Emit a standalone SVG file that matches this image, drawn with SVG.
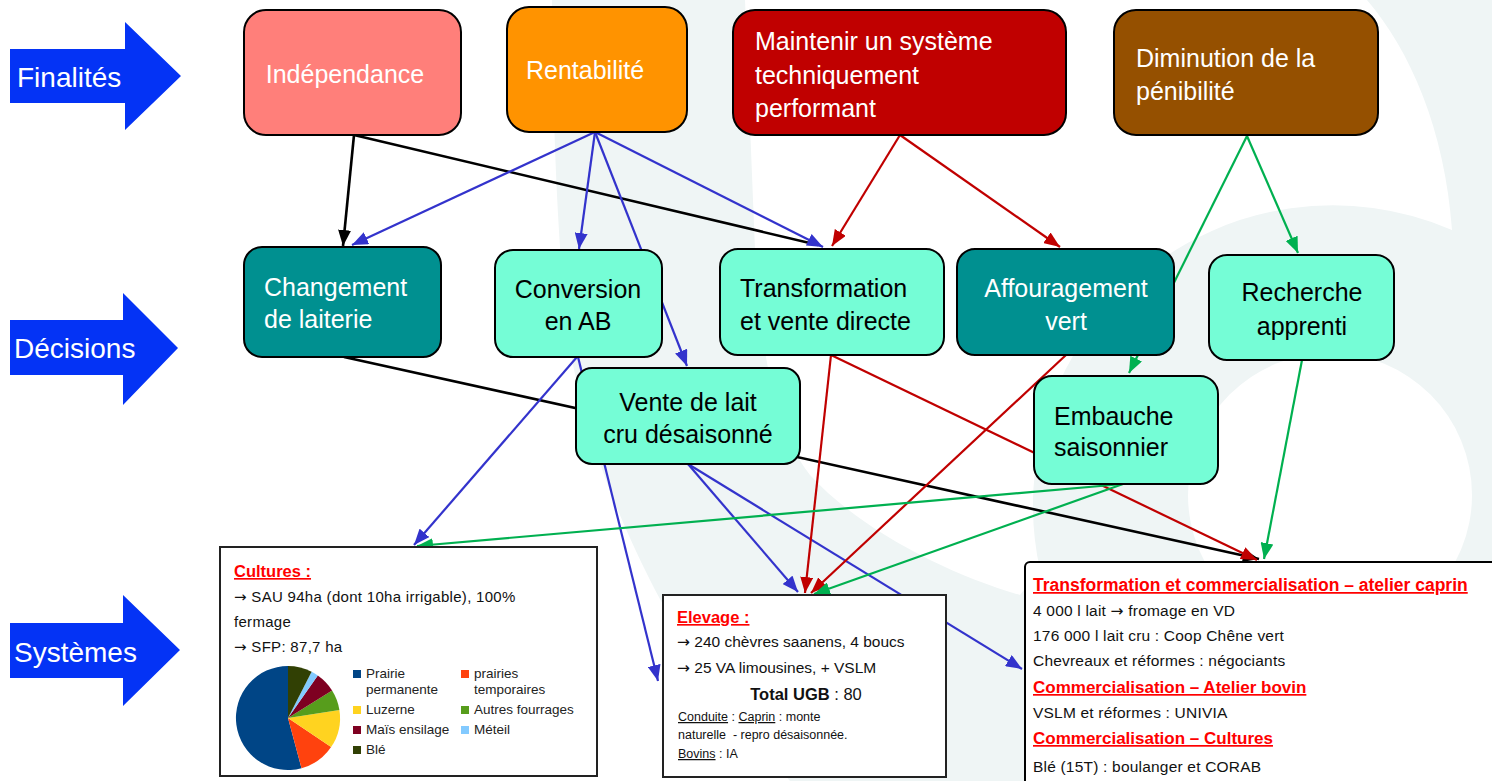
<svg xmlns="http://www.w3.org/2000/svg" width="1492" height="781" viewBox="0 0 1492 781">
<defs>
<style>
.lbl{font-family:"Liberation Sans",Arial,sans-serif;font-size:28px;fill:#fff}
.nt{font-family:"Liberation Sans",Arial,sans-serif;font-size:25px}
.w{fill:#fff}
.k{fill:#000}
.node{stroke:#000;stroke-width:2}
.box{fill:#fff;stroke:#222;stroke-width:2}
.bt{font-family:"Liberation Sans",Arial,sans-serif;font-size:15.5px;fill:#111}
.hd{font-family:"Liberation Sans",Arial,sans-serif;font-size:17px;font-weight:bold;fill:#ff0000;text-decoration:underline}
.sm{font-family:"Liberation Sans",Arial,sans-serif;font-size:12.5px;fill:#111}
.lg{font-family:"Liberation Sans",Arial,sans-serif;font-size:13.5px;fill:#222}
.ar{font-family:"DejaVu Sans",sans-serif}
.c{fill:none;stroke-width:2.2}
.cb{stroke:#000;stroke-width:2.6}
.cu{stroke:#3333cc}
.cr{stroke:#c00000}
.cg{stroke:#00b050}
</style>
<marker id="mk" markerUnits="userSpaceOnUse" markerWidth="16" markerHeight="13" refX="16" refY="6.5" orient="auto"><path d="M0,0 L16,6.5 L0,13 Z" fill="#000"/></marker>
<marker id="mu" markerUnits="userSpaceOnUse" markerWidth="16" markerHeight="13" refX="16" refY="6.5" orient="auto"><path d="M0,0 L16,6.5 L0,13 Z" fill="#3333cc"/></marker>
<marker id="mr" markerUnits="userSpaceOnUse" markerWidth="16" markerHeight="13" refX="16" refY="6.5" orient="auto"><path d="M0,0 L16,6.5 L0,13 Z" fill="#c00000"/></marker>
<marker id="mg" markerUnits="userSpaceOnUse" markerWidth="16" markerHeight="13" refX="16" refY="6.5" orient="auto"><path d="M0,0 L16,6.5 L0,13 Z" fill="#00b050"/></marker>
</defs>
<rect width="1492" height="781" fill="#fff"/>
<g id="watermark">
<path fill="#eff5f5" fill-rule="evenodd" d="M552,0 L1492,0 L1492,781 L790,781 C730,710 680,640 650,580 C620,520 590,450 572,360 C560,290 553,150 552,0 Z M745,0 L1367,0 C1410,50 1445,130 1452,230 A300,300 0 0 0 1040,570 L1020,595 C950,575 860,530 810,475 C775,430 760,350 755,250 L745,0 Z"/>
<circle cx="1330" cy="495" r="142" fill="#fff"/>
</g>
<g id="row-labels">
<g id="lbl-finalites"><path d="M10,49 H125 V22 L181,76 L125,130 V103 H10 Z" fill="#0433f5"/><text class="lbl" x="17" y="87">Finalités</text></g>
<g id="lbl-decisions"><path d="M10,320 H123 V293 L178,348 L123,405 V375 H10 Z" fill="#0433f5"/><text class="lbl" x="14" y="358">Décisions</text></g>
<g id="lbl-systemes"><path d="M10,623 H123 V595 L180,650 L123,706 V678 H10 Z" fill="#0433f5"/><text class="lbl" x="14" y="662">Systèmes</text></g>
</g>
<g id="connectors">
<path class="c cb" d="M354,135 L343,246" marker-end="url(#mk)"/>
<path class="c cb" d="M354,135 L818,245"/>
<path class="c cb" d="M344,357 L1259,559" marker-end="url(#mk)"/>
<path class="c cu" d="M595,132 L352,245" marker-end="url(#mu)"/>
<path class="c cu" d="M595,132 L579,249" marker-end="url(#mu)"/>
<path class="c cu" d="M595,132 L687,366" marker-end="url(#mu)"/>
<path class="c cu" d="M595,132 L823,247" marker-end="url(#mu)"/>
<path class="c cu" d="M577,357 L414,545" marker-end="url(#mu)"/>
<path class="c cu" d="M578,357 L658,681" marker-end="url(#mu)"/>
<path class="c cu" d="M688,464 L798,592" marker-end="url(#mu)"/>
<path class="c cu" d="M688,464 L1022,669" marker-end="url(#mu)"/>
<path class="c cr" d="M900,135 L832,246" marker-end="url(#mr)"/>
<path class="c cr" d="M900,135 L1060,247" marker-end="url(#mr)"/>
<path class="c cr" d="M831,355 L805,593" marker-end="url(#mr)"/>
<path class="c cr" d="M831,355 L1257,560" marker-end="url(#mr)"/>
<path class="c cr" d="M1066,355 L811,593" marker-end="url(#mr)"/>
<path class="c cg" d="M1247,136 L1298,253" marker-end="url(#mg)"/>
<path class="c cg" d="M1247,136 L1129,373" marker-end="url(#mg)"/>
<path class="c cg" d="M1302,360 L1264,559" marker-end="url(#mg)"/>
<path class="c cg" d="M1123,484 L417,546" marker-end="url(#mg)"/>
<path class="c cg" d="M1123,484 L814,594" marker-end="url(#mg)"/>
</g>
<g id="n-independance"><rect class="node" x="244" y="10" width="217" height="125" rx="22" fill="#ff7f7a"/><text class="nt w" x="345" y="83" text-anchor="middle">Indépendance</text></g>
<g id="n-rentabilite"><rect class="node" x="507" y="7" width="180" height="125" rx="22" fill="#ff9300"/><text class="nt w" x="526" y="79">Rentabilité</text></g>
<g id="n-maintenir"><rect class="node" x="733" y="10" width="333" height="125" rx="22" fill="#c00000"/><text class="nt w" x="755" y="50">Maintenir un système</text><text class="nt w" x="755" y="84">techniquement</text><text class="nt w" x="755" y="117">performant</text></g>
<g id="n-diminution"><rect class="node" x="1114" y="10" width="264" height="125" rx="22" fill="#955000"/><text class="nt w" x="1136" y="67">Diminution de la</text><text class="nt w" x="1136" y="100">pénibilité</text></g>
<g id="n-changement"><rect class="node" x="244" y="247" width="197" height="110" rx="18" fill="#009090"/><text class="nt w" x="264" y="296">Changement</text><text class="nt w" x="264" y="328">de laiterie</text></g>
<g id="n-conversion"><rect class="node" x="495" y="250" width="167" height="107" rx="18" fill="#75fdd6"/><text class="nt k" x="578" y="298" text-anchor="middle">Conversion</text><text class="nt k" x="578" y="330" text-anchor="middle">en AB</text></g>
<g id="n-transformation"><rect class="node" x="720" y="249" width="224" height="106" rx="18" fill="#75fdd6"/><text class="nt k" x="740" y="297">Transformation</text><text class="nt k" x="740" y="330">et vente directe</text></g>
<g id="n-affouragement"><rect class="node" x="957" y="249" width="217" height="106" rx="18" fill="#009090"/><text class="nt w" x="1066" y="297" text-anchor="middle">Affouragement</text><text class="nt w" x="1066" y="330" text-anchor="middle">vert</text></g>
<g id="n-recherche"><rect class="node" x="1209" y="255" width="185" height="105" rx="18" fill="#75fdd6"/><text class="nt k" x="1302" y="301" text-anchor="middle">Recherche</text><text class="nt k" x="1302" y="335" text-anchor="middle">apprenti</text></g>
<g id="n-vente"><rect class="node" x="576" y="368" width="224" height="96" rx="16" fill="#75fdd6"/><text class="nt k" x="688" y="411" text-anchor="middle">Vente de lait</text><text class="nt k" x="688" y="443" text-anchor="middle">cru désaisonné</text></g>
<g id="n-embauche"><rect class="node" x="1034" y="376" width="184" height="108" rx="18" fill="#75fdd6"/><text class="nt k" x="1054" y="425">Embauche</text><text class="nt k" x="1054" y="456">saisonnier</text></g>
<g id="n-cultures">
<rect class="box" x="220" y="547" width="377" height="229"/>
<text class="hd" x="234" y="577" style="font-size:16.5px">Cultures :</text>
<text class="bt" x="234" y="602" style="font-size:15px;letter-spacing:0.3px"><tspan class="ar">→</tspan> SAU 94ha (dont 10ha irrigable), 100%</text>
<text class="bt" x="234" y="627" style="font-size:15px;letter-spacing:0.3px">fermage</text>
<text class="bt" x="234" y="652" style="font-size:15px;letter-spacing:0.3px"><tspan class="ar">→</tspan> SFP: 87,7 ha</text>
<g id="pie">
<path d="M288,718 L301.5,768.2 A52,52 0 1 1 288,666 Z" fill="#004586"/>
<path d="M288,718 L331.1,747.1 A52,52 0 0 1 301.5,768.2 Z" fill="#ff420e"/>
<path d="M288,718 L339.4,709.9 A52,52 0 0 1 331.1,747.1 Z" fill="#ffd320"/>
<path d="M288,718 L332.1,690.4 A52,52 0 0 1 339.4,709.9 Z" fill="#579d1c"/>
<path d="M288,718 L317.8,675.4 A52,52 0 0 1 332.1,690.4 Z" fill="#7e0021"/>
<path d="M288,718 L311.6,671.7 A52,52 0 0 1 317.8,675.4 Z" fill="#83caff"/>
<path d="M288,718 L288,666 A52,52 0 0 1 311.6,671.7 Z" fill="#314004"/>
</g>
<g id="legend">
<rect x="353" y="670" width="8" height="8" fill="#004586"/><text class="lg" x="366" y="678">Prairie</text><text class="lg" x="366" y="694">permanente</text>
<rect x="461" y="670" width="8" height="8" fill="#ff420e"/><text class="lg" x="474" y="678">prairies</text><text class="lg" x="474" y="694">temporaires</text>
<rect x="353" y="706" width="8" height="8" fill="#ffd320"/><text class="lg" x="366" y="714">Luzerne</text>
<rect x="461" y="706" width="8" height="8" fill="#579d1c"/><text class="lg" x="474" y="714">Autres fourrages</text>
<rect x="353" y="726" width="8" height="8" fill="#7e0021"/><text class="lg" x="366" y="734">Maïs ensilage</text>
<rect x="461" y="726" width="8" height="8" fill="#83caff"/><text class="lg" x="474" y="734">Méteil</text>
<rect x="353" y="746" width="8" height="8" fill="#314004"/><text class="lg" x="366" y="754">Blé</text>
</g>
</g>
<g id="n-elevage">
<rect class="box" x="663" y="595" width="283" height="182"/>
<text class="hd" x="677" y="623" style="font-size:16.5px">Elevage :</text>
<text class="bt" x="677" y="647"><tspan class="ar">→</tspan> 240 chèvres saanens, 4 boucs</text>
<text class="bt" x="677" y="673"><tspan class="ar">→</tspan> 25 VA limousines, + VSLM</text>
<text class="bt" x="806" y="700" text-anchor="middle" style="font-size:16.5px"><tspan font-weight="bold">Total UGB</tspan> : 80</text>
<text class="sm" x="678" y="721"><tspan text-decoration="underline">Conduite</tspan> : <tspan text-decoration="underline">Caprin</tspan> : monte</text>
<text class="sm" x="678" y="739">naturelle &#160;- repro désaisonnée.</text>
<text class="sm" x="678" y="758"><tspan text-decoration="underline">Bovins</tspan> : IA</text>
</g>
<g id="n-commercialisation">
<rect x="1025" y="562" width="490" height="240" rx="5" fill="#fff" stroke="#000" stroke-width="2"/>
<text class="hd" x="1033" y="591" style="font-size:17.5px">Transformation et commercialisation – atelier caprin</text>
<text class="bt" x="1033" y="616" style="letter-spacing:0.2px">4 000 l lait <tspan class="ar">→</tspan> fromage en VD</text>
<text class="bt" x="1033" y="641" style="letter-spacing:0.2px">176 000 l lait cru : Coop Chêne vert</text>
<text class="bt" x="1033" y="666" style="letter-spacing:0.2px">Chevreaux et réformes : négociants</text>
<text class="hd" x="1033" y="693">Commercialisation – Atelier bovin</text>
<text class="bt" x="1033" y="718" style="letter-spacing:0.2px">VSLM et réformes : UNIVIA</text>
<text class="hd" x="1033" y="744">Commercialisation – Cultures</text>
<text class="bt" x="1033" y="772" style="letter-spacing:0.2px">Blé (15T) : boulanger et CORAB</text>
</g>
</svg>
